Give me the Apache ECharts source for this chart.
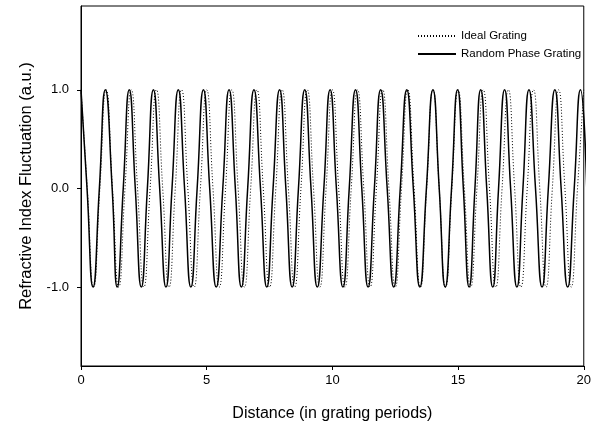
<!DOCTYPE html>
<html>
<head>
<meta charset="utf-8">
<script src="https://cdn.jsdelivr.net/npm/echarts@6/dist/echarts.min.js"></script>
<style>
html,body{margin:0;padding:0;background:#fff;}
#chart{width:594px;height:429px;}
</style>
</head>
<body>
<div id="chart"></div>
<script>
// Ideal grating: extrema and zero crossings
var idealX = [0,0.25,0.5,0.75,1,1.25,1.5,1.75,2,2.25,2.5,2.75,3,3.25,3.5,3.75,4,4.25,4.5,4.75,5,5.25,5.5,5.75,6,6.25,6.5,6.75,7,7.25,7.5,7.75,8,8.25,8.5,8.75,9,9.25,9.5,9.75,10,10.25,10.5,10.75,11,11.25,11.5,11.75,12,12.25,12.5,12.75,13,13.25,13.5,13.75,14,14.25,14.5,14.75,15,15.25,15.5,15.75,16,16.25,16.5,16.75,17,17.25,17.5,17.75,18,18.25,18.5,18.75,19,19.25,19.5,19.75,20];
var idealY = [1,0,-1,0,1,0,-1,0,1,0,-1,0,1,0,-1,0,1,0,-1,0,1,0,-1,0,1,0,-1,0,1,0,-1,0,1,0,-1,0,1,0,-1,0,1,0,-1,0,1,0,-1,0,1,0,-1,0,1,0,-1,0,1,0,-1,0,1,0,-1,0,1,0,-1,0,1,0,-1,0,1,0,-1,0,1,0,-1,0,1];
// Random phase grating: extrema and zero crossings
var randomX = [0,0.24,0.48,0.73,0.97,1.24,1.44,1.68,1.92,2.16,2.40,2.64,2.88,3.13,3.38,3.62,3.87,4.12,4.37,4.62,4.87,5.12,5.38,5.64,5.89,6.14,6.38,6.63,6.88,7.14,7.39,7.64,7.90,8.15,8.40,8.65,8.90,9.15,9.40,9.66,9.91,10.16,10.42,10.67,10.92,11.17,11.42,11.67,11.92,12.18,12.44,12.70,12.96,13.22,13.48,13.74,14.0,14.25,14.49,14.74,14.98,15.21,15.44,15.67,15.90,16.14,16.38,16.61,16.85,17.09,17.34,17.58,17.82,18.08,18.34,18.59,18.85,19.10,19.36,19.62,19.87,20.12];
var randomY = [1,0,-1,0,1,0,-1,0,1,0,-1,0,1,0,-1,0,1,0,-1,0,1,0,-1,0,1,0,-1,0,1,0,-1,0,1,0,-1,0,1,0,-1,0,1,0,-1,0,1,0,-1,0,1,0,-1,0,1,0,-1,0,1,0,-1,0,1,0,-1,0,1,0,-1,0,1,0,-1,0,1,0,-1,0,1,0,-1,0,1,0];
var yTicks = [-1, 0, 1];
var seriesNames = ['Ideal Grating', 'Random Phase Grating'];

function pairs(xs, ys){ return xs.map(function(x,i){ return [x, ys[i]]; }); }

var font = 'Liberation Sans, Arial, sans-serif';
var chart = echarts.init(document.getElementById('chart'), null, {renderer:'canvas'});
chart.setOption({
  animation:false,
  backgroundColor:'#fff',
  grid:{left:81, right:7, top:6, bottom:63, show:true, borderColor:'#000', borderWidth:1},
  legend:{
    orient:'vertical', left:412, top:25, itemWidth:38, itemHeight:12, itemGap:6,
    textStyle:{fontFamily:font, fontSize:11.5, color:'#000'},
    itemStyle:{color:'transparent', borderWidth:0, opacity:0},
    data:seriesNames
  },
  xAxis:{
    type:'value', min:0, max:20, interval:5,
    name:'Distance (in grating periods)', nameLocation:'middle', nameGap:40,
    nameTextStyle:{fontFamily:font, fontSize:16, color:'#000'},
    axisLine:{onZero:false, lineStyle:{color:'#000', width:1}},
    axisTick:{show:true, length:4, lineStyle:{color:'#000'}},
    axisLabel:{fontFamily:font, fontSize:13, color:'#000', margin:8},
    splitLine:{show:false}
  },
  yAxis:{
    type:'value', min:-1.8, max:1.85,
    name:'Refractive Index Fluctuation (a.u.)', nameLocation:'middle', nameGap:46,
    nameTextStyle:{fontFamily:font, fontSize:16.5, color:'#000'},
    axisLine:{show:true, onZero:false, lineStyle:{color:'#000', width:1}},
    axisTick:{show:true, length:4, customValues:yTicks, lineStyle:{color:'#000'}},
    axisLabel:{fontFamily:font, fontSize:13, color:'#000', margin:12, customValues:yTicks,
      formatter:function(v){ return v.toFixed(1); }},
    splitLine:{show:false}
  },
  series:[
    {name:seriesNames[0], type:'line', data:pairs(idealX, idealY), smooth:0.55, symbol:'none',
     lineStyle:{color:'#000', width:1, type:[1,2]}, itemStyle:{color:'#000'}},
    {name:seriesNames[1], type:'line', data:pairs(randomX, randomY), smooth:0.55, symbol:'none',
     lineStyle:{color:'#000', width:1.5, type:'solid'}, itemStyle:{color:'#000'}}
  ]
});
</script>
</body>
</html>
